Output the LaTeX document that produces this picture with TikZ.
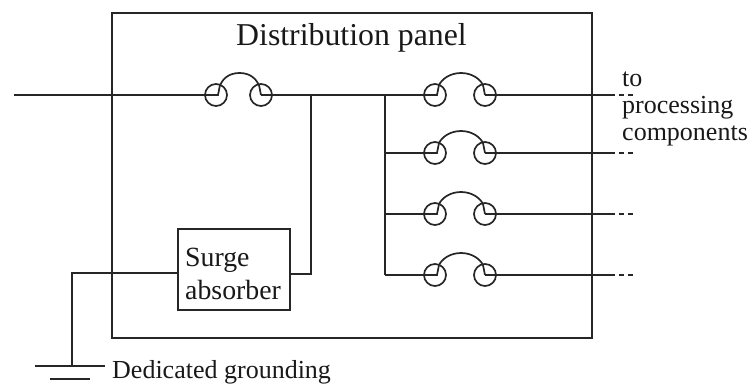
\documentclass[tikz,border=0pt]{standalone}
\usepackage{fontspec}
\setmainfont{Liberation Serif}
\usetikzlibrary{calc}
\tikzset{
  x=1pt,y=-1pt,
  wire/.style={line width=1.7pt,draw=black!85},
  term/.style={circle,draw=black!85,line width=1.7pt,minimum size=22pt,inner sep=0pt},
  lab/.style={font=\fontsize{31.8}{32}\selectfont,inner sep=0pt,anchor=base west,text=black!90},
  mid/.style={font=\fontsize{27.8}{28}\selectfont,inner sep=0pt,anchor=base west,text=black!90},
  sm/.style={font=\fontsize{26}{26}\selectfont,inner sep=0pt,anchor=base west,text=black!90},
  boxed/.style={draw=black!85,line width=1.7pt,inner sep=0pt}
}
\begin{document}
\begin{tikzpicture}
\useasboundingbox (0,0) rectangle (751,387);
\node[boxed,minimum width=480pt,minimum height=325pt] (panel) at (352,175.5) {};
\node[lab] (title) at (236,46) {Distribution panel};
\node[boxed,minimum width=112pt,minimum height=81pt] (surge) at (234,269.5) {};
\node[mid] (s1) at (185,266) {Surge};
\node[mid] (s2) at (185,299) {absorber};
\node[sm] (t1) at (622,87) {to};
\node[sm] (t2) at (622,114) {processing};
\node[sm] (t3) at (622,141) {components};
\node[sm] (g) at (112,378) {Dedicated grounding};
% fuses
\foreach \n/\xa/\xb/\y in {m/216/261/95,a/435/485/95,b/435/485/153,c/435/485/214,d/435/485/275}{
  \node[term] (\n-l) at (\xa,\y) {};
  \node[term] (\n-r) at (\xb,\y) {};
  \coordinate (\n-p) at (\xa+2,\y);
  \coordinate (\n-q) at (\xb,\y);
  \coordinate (\n-t) at ({(\xa+\xb)/2+1},\y-22);
  \draw[wire] (\n-l.center) -- (\n-p) -- ($(\n-p)+(2,-10)$) .. controls ($(\n-p)+(5,-16)$) and ($(\n-t)+(-11,0)$) .. (\n-t) .. controls ($(\n-t)+(11,0)$) and ($(\n-q)+(-5,-16)$) .. ($(\n-q)+(-2,-10)$) -- (\n-q);
}
% wiring
\coordinate (start) at (14,95);
\coordinate (j1) at (311,95);
\coordinate (j2) at (385,95);
\coordinate (j3) at (385,153);
\coordinate (j4) at (385,214);
\coordinate (j5) at (385,275);
\draw[wire] (start) -- (m-l.center);
\draw[wire] (m-r.center) -- (j1) -- (j2) -- (a-l.center);
\draw[wire] (j2) -- (j3) -- (j4) -- (j5);
\draw[wire] (j3) -- (b-l.center);
\draw[wire] (j4) -- (c-l.center);
\draw[wire] (j5) -- (d-l.center);
\draw[wire] (j1) |- (surge.east |- 0,274);
\foreach \n/\y in {a/95,b/153,c/214,d/275}{
  \coordinate (\n-e) at (610,\y);
  \coordinate (\n-f) at (636,\y);
  \draw[wire] (\n-r.center) -- (\n-e);
  \draw[wire,dash pattern=on 5pt off 4pt] (\n-e) -- (\n-f);
}
\coordinate (gc) at (72,366);
\coordinate (g1) at (35,366);
\coordinate (g2) at (105,366);
\coordinate (g3) at (50,379);
\coordinate (g4) at (90,379);
\draw[wire] (surge.west |- 0,273) -| (gc);
\draw[wire] (g1) -- (g2);
\draw[wire] (g3) -- (g4);
\end{tikzpicture}
\end{document}
